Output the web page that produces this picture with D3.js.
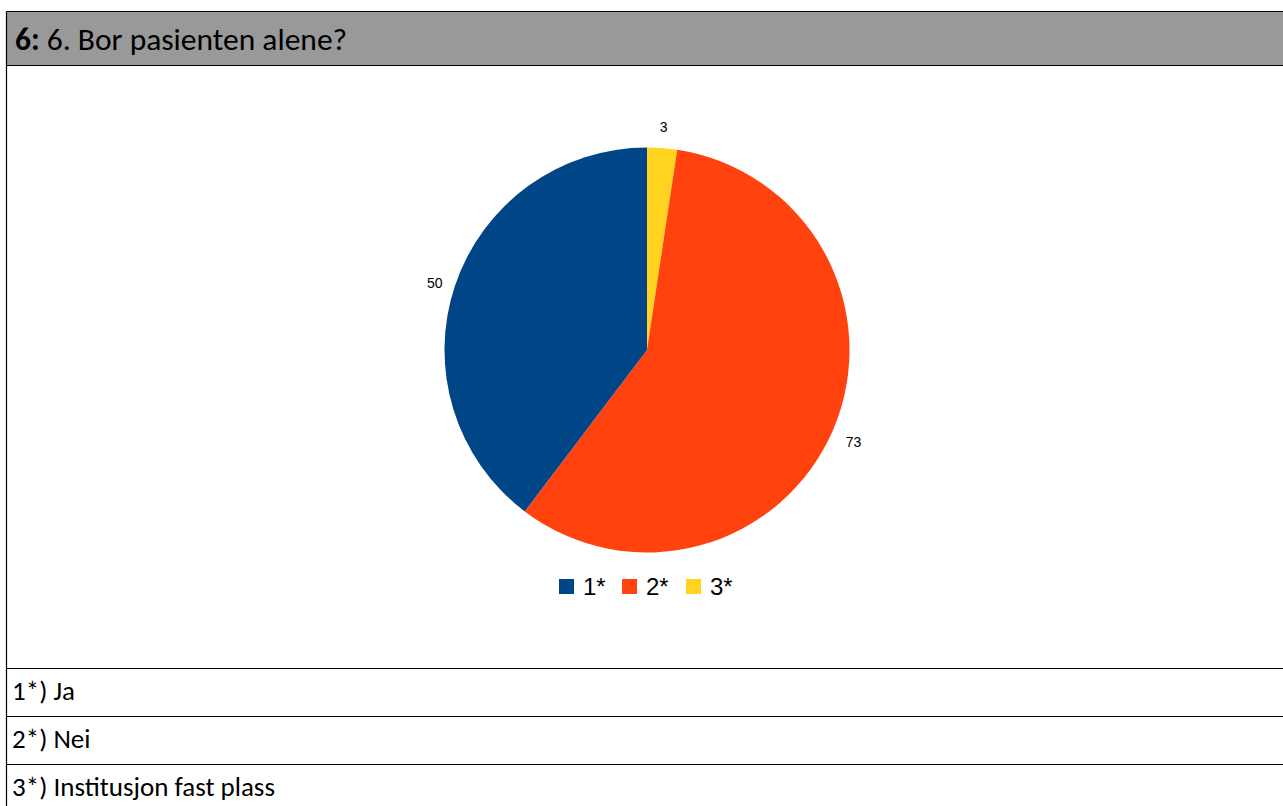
<!DOCTYPE html>
<html>
<head>
<meta charset="utf-8">
<script src="https://cdn.jsdelivr.net/npm/d3@7"></script>
<style>
  html, body { margin: 0; padding: 0; background: #fff; }
  svg { display: block; }
</style>
</head>
<body>
<svg id="chart" width="1283" height="806"></svg>
<script>
// Survey question 6 answers
const categories = ["1*", "2*", "3*"];
const values = [50, 73, 3];
const answerTexts = ["1*) Ja", "2*) Nei", "3*) Institusjon fast plass"];
const questionNumber = "6:";
const questionText = " 6. Bor pasienten alene?";
const colors = ["#004586", "#ff420e", "#ffd320"];

(function draw() {
  const W = 1283, H = 806;
  const svg = d3.select("#chart");
  const textFont = "Carlito, Lato, 'Open Sans', sans-serif";
  const chartFont = "'Liberation Sans', Arial, sans-serif";

  // Frame: header band and rows
  const frameLeft = 6.5, frameTop = 11.5;
  const headerBottom = 65.5;
  const rowLines = [668.5, 716.5, 764.5];

  svg.append("rect")
    .attr("x", frameLeft).attr("y", frameTop)
    .attr("width", W + 10).attr("height", headerBottom - frameTop)
    .attr("fill", "#999999");

  const hLine = y => svg.append("line")
    .attr("x1", frameLeft).attr("x2", W + 10)
    .attr("y1", y).attr("y2", y)
    .attr("stroke", "#000").attr("stroke-width", 1.2);

  hLine(frameTop);
  hLine(headerBottom);
  rowLines.forEach(hLine);

  svg.append("line")
    .attr("x1", frameLeft).attr("x2", frameLeft)
    .attr("y1", frameTop).attr("y2", H + 10)
    .attr("stroke", "#000").attr("stroke-width", 1.2);

  // Header title
  const title = svg.append("text")
    .attr("x", 15).attr("y", 50)
    .attr("font-family", textFont)
    .attr("font-size", 31.5)
    .attr("fill", "#000");
  title.append("tspan").attr("font-weight", "bold").text(questionNumber);
  title.append("tspan").text(questionText);

  // Answer rows
  answerTexts.forEach((t, i) => {
    svg.append("text")
      .attr("x", 12)
      .attr("y", rowLines[i] + 31.5)
      .attr("font-family", textFont)
      .attr("font-size", 27)
      .attr("fill", "#000")
      .text(t);
  });

  // Pie, clockwise from 12 o'clock: 3*, 2*, 1*
  const cx = 647, cy = 350, r = 202.5;
  const order = [2, 1, 0];
  const pie = d3.pie().sort(null).value(i => values[i]);
  const arcs = pie(order);
  const arc = d3.arc().innerRadius(0).outerRadius(r);
  const labelArc = d3.arc().innerRadius(224).outerRadius(224);

  const g = svg.append("g").attr("transform", `translate(${cx},${cy})`);
  g.selectAll("path.slice")
    .data(arcs)
    .join("path")
    .attr("class", "slice")
    .attr("d", arc)
    .attr("fill", d => colors[d.data]);

  g.selectAll("text.val")
    .data(arcs)
    .join("text")
    .attr("class", "val")
    .attr("transform", d => {
      const [x, y] = labelArc.centroid(d);
      const mid = (d.startAngle + d.endAngle) / 2;
      return `translate(${x},${y + 5 * Math.abs(Math.sin(mid))})`;
    })
    .attr("text-anchor", "middle")
    .attr("dominant-baseline", "central")
    .attr("font-family", chartFont)
    .attr("font-size", 14)
    .attr("fill", "#000")
    .text(d => values[d.data]);

  // Legend
  const legendX = d3.scaleOrdinal().domain(categories).range([559, 622, 686]);
  const legend = svg.append("g");
  categories.forEach((c, i) => {
    legend.append("rect")
      .attr("x", legendX(c)).attr("y", 579)
      .attr("width", 15).attr("height", 15)
      .attr("fill", colors[i]);
    legend.append("text")
      .attr("x", legendX(c) + 24).attr("y", 595)
      .attr("font-family", chartFont)
      .attr("font-size", 24)
      .attr("fill", "#000")
      .text(c);
  });
})();
</script>
</body>
</html>
